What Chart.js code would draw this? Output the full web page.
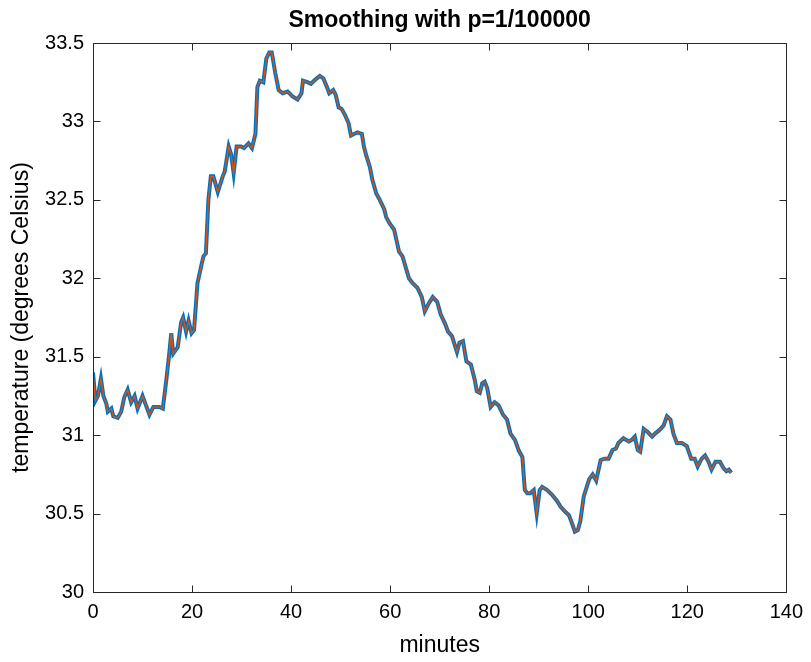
<!DOCTYPE html>
<html>
<head>
<meta charset="utf-8">
<script src="https://cdn.jsdelivr.net/npm/chart.js@4.4.1/dist/chart.umd.min.js"></script>
<style>
    html, body { margin: 0; padding: 0; background: #ffffff; }
    #wrap { width: 811px; height: 662px; }
</style>
</head>
<body>
<div id="wrap"><canvas id="chart" width="811" height="662"></canvas></div>
<script>
// Temperature trace (minutes, degrees Celsius)
const minutes = [
    0.0, 0.5, 1.0, 1.6, 2.1, 2.7, 3.0, 3.7, 4.1, 5.0, 5.7, 6.3, 7.0, 7.7, 8.4, 9.0,
    10.0, 10.7, 11.4, 12.2, 13.4, 14.1, 14.8, 15.4, 15.8, 16.2, 17.1, 17.8, 18.2, 18.8, 19.3, 19.9,
    20.4, 20.8, 21.1, 21.8, 22.3, 22.8, 23.3, 23.8, 24.3, 25.2, 26.2, 26.6, 27.4, 27.9, 28.4, 29.0,
    29.9, 30.5, 31.4, 32.1, 32.8, 33.2, 33.7, 34.4, 35.0, 35.6, 36.1, 36.8, 37.5, 38.3, 39.3, 40.3,
    41.3, 42.1, 42.4, 43.3, 44.0, 45.0, 45.8, 46.5, 47.1, 47.7, 48.5, 49.0, 49.6, 50.2, 50.9, 51.6,
    52.1, 52.7, 53.4, 54.3, 54.7, 55.2, 55.9, 56.4, 57.2, 57.9, 58.8, 59.2, 59.9, 60.8, 61.3, 61.8,
    62.5, 63.8, 64.5, 65.5, 66.4, 67.0, 67.8, 68.6, 69.5, 70.2, 71.1, 71.7, 72.5, 73.5, 74.0, 74.7,
    75.4, 76.3, 77.1, 77.5, 78.1, 78.6, 79.1, 79.6, 80.3, 81.1, 81.9, 82.8, 83.6, 84.3, 85.2, 86.0,
    86.7, 87.2, 87.7, 88.3, 89.0, 89.6, 90.2, 90.7, 91.7, 92.7, 93.7, 94.4, 95.4, 96.1, 96.7, 97.3,
    97.9, 98.4, 99.1, 99.8, 100.2, 100.9, 101.6, 102.5, 103.3, 104.1, 104.9, 105.6, 106.1, 107.1, 108.2, 108.8,
    109.4, 110.0, 110.5, 111.2, 112.0, 112.9, 113.5, 114.3, 115.2, 115.9, 116.6, 117.2, 117.9, 118.9, 119.9, 120.8,
    121.5, 122.1, 122.9, 123.6, 124.3, 124.9, 125.7, 126.6, 127.3, 127.9, 128.4, 128.9
];
const temperature = [
    31.40, 31.22, 31.25, 31.36, 31.25, 31.20, 31.15, 31.17, 31.12, 31.11, 31.15, 31.24, 31.29, 31.21, 31.25, 31.17,
    31.25, 31.19, 31.13, 31.18, 31.18, 31.17, 31.35, 31.52, 31.65, 31.52, 31.56, 31.72, 31.75, 31.66, 31.73, 31.65,
    31.67, 31.84, 31.97, 32.07, 32.14, 32.16, 32.50, 32.65, 32.65, 32.55, 32.65, 32.68, 32.84, 32.79, 32.67, 32.84,
    32.84, 32.83, 32.86, 32.83, 32.92, 33.22, 33.26, 33.25, 33.40, 33.44, 33.44, 33.31, 33.20, 33.18, 33.19, 33.16,
    33.14, 33.18, 33.26, 33.25, 33.24, 33.27, 33.29, 33.275, 33.23, 33.18, 33.20, 33.17, 33.09, 33.08, 33.04, 32.99,
    32.91, 32.92, 32.93, 32.92, 32.84, 32.78, 32.71, 32.63, 32.54, 32.50, 32.44, 32.39, 32.35, 32.31, 32.24, 32.17,
    32.14, 32.00, 31.97, 31.94, 31.88, 31.79, 31.84, 31.88, 31.85, 31.77, 31.71, 31.66, 31.63, 31.53, 31.59, 31.60,
    31.47, 31.45, 31.35, 31.28, 31.27, 31.33, 31.34, 31.30, 31.18, 31.21, 31.19, 31.13, 31.10, 31.01, 30.97, 30.90,
    30.86, 30.65, 30.63, 30.63, 30.65, 30.50, 30.65, 30.67, 30.65, 30.62, 30.58, 30.545, 30.51, 30.49, 30.44, 30.385,
    30.395, 30.45, 30.61, 30.68, 30.72, 30.75, 30.71, 30.84, 30.85, 30.85, 30.905, 30.915, 30.95, 30.98, 30.96, 30.97,
    30.99, 30.905, 30.895, 31.04, 31.02, 30.99, 31.01, 31.03, 31.06, 31.12, 31.10, 31.01, 30.95, 30.95, 30.93, 30.85,
    30.85, 30.80, 30.85, 30.87, 30.83, 30.78, 30.83, 30.83, 30.79, 30.77, 30.78, 30.76
];
const xTicks = [0, 20, 40, 60, 80, 100, 120, 140];
const yTicks = [30, 30.5, 31, 31.5, 32, 32.5, 33, 33.5];

const titleText = 'Smoothing with p=1/100000';
const FONT = '"Liberation Sans", Arial, Helvetica, sans-serif';
const AXIS = '#262626';

const points = minutes.map((m, i) => ({ x: m, y: temperature[i] }));

// MATLAB-style box with inward ticks, plus a title centred on the axes
const matlabFrame = {
    id: 'matlabFrame',
    afterDatasetsDraw(chart) {
        const { ctx, chartArea: a, scales: { x, y } } = chart;
        const L = Math.round(a.left) + 0.5, R = Math.round(a.right) + 0.5;
        const T = Math.round(a.top) + 0.5, B = Math.round(a.bottom) + 0.5;
        const len = 7;
        ctx.save();
        ctx.strokeStyle = AXIS;
        ctx.lineWidth = 1;
        ctx.beginPath();
        ctx.rect(L, T, R - L, B - T);
        xTicks.forEach(v => {
            const px = Math.round(x.getPixelForValue(v)) + 0.5;
            ctx.moveTo(px, B); ctx.lineTo(px, B - len);
            ctx.moveTo(px, T); ctx.lineTo(px, T + len);
        });
        yTicks.forEach(v => {
            const py = Math.round(y.getPixelForValue(v)) + 0.5;
            ctx.moveTo(L, py); ctx.lineTo(L + len, py);
            ctx.moveTo(R, py); ctx.lineTo(R - len, py);
        });
        ctx.stroke();
        ctx.fillStyle = '#000000';
        ctx.font = 'bold 23px ' + FONT;
        ctx.textAlign = 'center';
        ctx.textBaseline = 'middle';
        ctx.fillText(titleText, (a.left + a.right) / 2, 21);
        ctx.restore();
    }
};

new Chart(document.getElementById('chart'), {
    type: 'line',
    data: {
        datasets: [
            {
                label: 'smoothed',
                data: points,
                borderColor: '#D95319',
                borderWidth: 1.3,
                pointRadius: 0,
                tension: 0,
                order: 1
            },
            {
                label: 'measured',
                data: points,
                borderColor: '#0072BD',
                borderWidth: 4,
                pointRadius: 0,
                tension: 0,
                order: 2
            }
        ]
    },
    options: {
        responsive: false,
        animation: false,
        layout: { padding: { top: 43, right: 24, left: 0, bottom: 0 } },
        plugins: {
            legend: { display: false },
            tooltip: { enabled: false }
        },
        scales: {
            x: {
                type: 'linear',
                min: 0,
                max: 140,
                afterFit: s => { s.height = 70; },
                afterBuildTicks: s => { s.ticks = xTicks.map(v => ({ value: v })); },
                grid: { display: false, drawTicks: false },
                border: { display: false },
                ticks: { color: '#000', padding: 8, maxRotation: 0, callback: v => String(v), font: { family: FONT, size: 20 } },
                title: { display: true, text: 'minutes', color: '#000', padding: { top: 0, bottom: 3 }, font: { family: FONT, size: 23 } }
            },
            y: {
                min: 30,
                max: 33.5,
                afterFit: s => { s.width = 93; },
                afterBuildTicks: s => { s.ticks = yTicks.map(v => ({ value: v })); },
                grid: { display: false, drawTicks: false },
                border: { display: false },
                ticks: { color: '#000', padding: 9, callback: v => String(v), font: { family: FONT, size: 20 } },
                title: { display: true, text: 'temperature (degrees Celsius)', color: '#000', padding: { top: 8, bottom: 0 }, font: { family: FONT, size: 23 } }
            }
        }
    },
    plugins: [matlabFrame]
});
</script>
</body>
</html>
